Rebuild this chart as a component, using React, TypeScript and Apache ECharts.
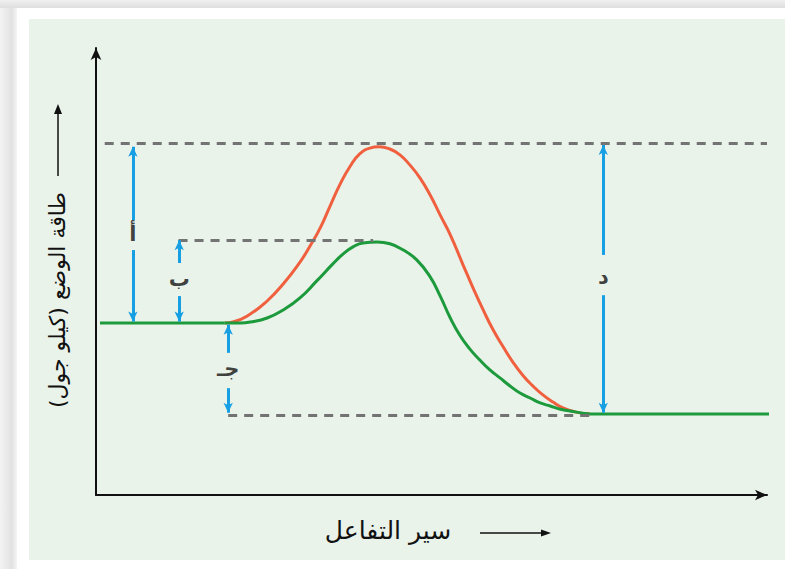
import { useEffect, useRef } from "react";
import * as echarts from "echarts";

// Reaction progress (x, 0-100) vs potential energy (y, 0-100)
const reactantLine: number[][] = [
  [0.6, 38.5], [19.2, 38.5],
];
const uncatalyzedCurve: number[][] = [
  [19.2, 38.5], [20.4, 38.7], [23.0, 40.5], [25.5, 43.4], [27.9, 47.2], [30.4, 52.1],
  [31.9, 55.7], [33.4, 59.7], [34.9, 64.7], [36.4, 69.6], [37.9, 73.6], [39.3, 76.3],
  [40.8, 77.6], [42.2, 77.9], [43.8, 77.4], [45.3, 76.1], [46.8, 73.8], [48.3, 70.9],
  [49.8, 67.1], [51.3, 62.6], [52.8, 58.2], [54.7, 51.5], [56.2, 46.3], [57.7, 41.4],
  [59.2, 36.9], [60.7, 33.1], [62.1, 29.8], [63.6, 26.8], [65.1, 24.4], [66.6, 22.4],
  [68.1, 20.8], [69.6, 19.5], [71.4, 18.6], [73.6, 18.1],
];
const catalyzedCurve: number[][] = [
  [19.2, 38.5], [21.5, 38.5], [23.0, 38.7], [25.5, 39.6], [27.9, 41.4], [30.4, 44.1],
  [32.9, 47.9], [35.3, 51.7], [36.8, 53.9], [38.3, 55.5], [39.8, 56.4], [41.9, 56.6],
  [43.8, 56.2], [45.8, 54.8], [47.8, 52.6], [49.8, 48.8], [51.3, 44.5], [52.8, 39.6],
  [54.2, 35.8], [55.7, 32.7], [57.2, 30.2], [58.7, 28.0], [60.2, 26.2], [61.7, 24.4],
  [63.2, 22.8], [64.7, 21.7], [66.2, 20.6], [67.7, 19.9], [69.2, 19.2], [71.4, 18.6],
  [73.6, 18.1],
];
const productLine: number[][] = [
  [73.6, 18.1], [100.9, 18.1],
];

// dashed guide lines: [xStart, xEnd, level]
const guideLines: number[][] = [
  [1.3, 100, 78.6],
  [12.3, 41.3, 57.0],
  [19.7, 73.6, 17.8],
];

// blue double arrows split around their labels: [x, from, to(arrow tip)]
const arrowSegments: number[][] = [
  [5.5, 61.5, 77.9], [5.5, 54.8, 38.8],
  [12.4, 51.9, 57.0], [12.4, 44.5, 38.8],
  [19.7, 31.8, 38.1], [19.7, 23.9, 18.4],
  [75.6, 53.7, 78.3], [75.6, 44.7, 18.4],
];
const gapLabels = ["أ", "ب", "جـ", "د"];
const gapLabelPos: number[][] = [
  [5.5, 58.3], [12.4, 48.4], [19.7, 28.2], [75.6, 48.8],
];

const yAxisTitle = "طاقة الوضع (كيلو جول)";
const xAxisTitle = "سير التفاعل";

const RED = "#f0603f";
const GREEN = "#1c9a3c";
const BLUE = "#179fe3";
const GREY = "#737373";
const AXIS = "#111111";
const ARABIC_FONT = "'DejaVu Sans', 'Noto Sans', sans-serif";

export default function App() {
  const ref = useRef<HTMLDivElement>(null);

  useEffect(() => {
    if (!ref.current) return;
    const chart = echarts.init(ref.current, undefined, { renderer: "svg" });

    const axisCommon = {
      type: "value" as const,
      min: 0,
      max: 100,
      axisLine: {
        show: true,
        onZero: false,
        symbol: ["none", "arrow"],
        symbolSize: [8, 12],
        lineStyle: { color: AXIS, width: 2 },
      },
      axisTick: { show: false },
      axisLabel: { show: false },
      splitLine: { show: false },
    };

    const curveStyle = (color: string) => ({
      type: "line" as const,
      showSymbol: false,
      symbol: "none",
      clip: false,
      silent: true,
      lineStyle: { color, width: 3 },
    });

    chart.setOption({
      animation: false,
      backgroundColor: "transparent",
      grid: { left: 96, right: 18, top: 48, bottom: 74, containLabel: false },
      xAxis: axisCommon,
      yAxis: axisCommon,
      tooltip: { show: false },
      series: [
        {
          ...curveStyle(RED),
          name: "uncatalyzed",
          smooth: 0.5,
          data: uncatalyzedCurve,
          z: 3,
        },
        {
          ...curveStyle(GREEN),
          name: "reactants",
          data: reactantLine,
          z: 4,
        },
        {
          ...curveStyle(GREEN),
          name: "catalyzed",
          smooth: 0.5,
          data: catalyzedCurve,
          z: 4,
        },
        {
          ...curveStyle(GREEN),
          name: "products",
          data: productLine,
          z: 4,
        },
        {
          type: "line",
          name: "guides",
          data: [],
          silent: true,
          z: 2,
          markLine: {
            silent: true,
            symbol: ["none", "none"],
            label: { show: false },
            emphasis: { disabled: true },
            lineStyle: { color: GREY, width: 3, type: [9, 7] },
            data: guideLines.map(([x0, x1, y]) => [
              { coord: [x0, y] },
              { coord: [x1, y] },
            ]),
          },
        },
        {
          type: "scatter",
          name: "labels",
          symbolSize: 0,
          silent: true,
          z: 5,
          data: gapLabelPos.map((p, i) => ({ value: p, name: gapLabels[i] })),
          label: {
            show: true,
            position: "inside",
            formatter: (p: any) => p.name,
            color: "#111",
            fontSize: 21,
            fontWeight: "bold",
            fontFamily: ARABIC_FONT,
          },
          markLine: {
            silent: true,
            symbol: ["none", "arrow"],
            symbolSize: [7, 10],
            label: { show: false },
            emphasis: { disabled: true },
            lineStyle: { color: BLUE, width: 3, type: "solid" },
            data: arrowSegments.map(([x, y0, y1]) => [
              { coord: [x, y0] },
              { coord: [x, y1] },
            ]),
          },
        },
      ],
      graphic: [
        {
          type: "text",
          x: 57,
          y: 300,
          rotation: Math.PI / 2,
          style: {
            text: "\u200F" + yAxisTitle + "\u200F",
            fill: "#111",
            fontSize: 22,
            fontFamily: ARABIC_FONT,
            align: "center",
            verticalAlign: "middle",
          },
        },
        {
          type: "line",
          shape: { x1: 58, y1: 176, x2: 58, y2: 112 },
          style: { stroke: "#111", lineWidth: 1.5 },
        },
        {
          type: "polygon",
          shape: { points: [[58, 104], [54, 114], [62, 114]] },
          style: { fill: "#111" },
        },
        {
          type: "text",
          x: 388,
          y: 530,
          style: {
            text: xAxisTitle,
            fill: "#111",
            fontSize: 25,
            fontFamily: ARABIC_FONT,
            align: "center",
            verticalAlign: "middle",
          },
        },
        {
          type: "line",
          shape: { x1: 480, y1: 533, x2: 542, y2: 533 },
          style: { stroke: "#111", lineWidth: 1.5 },
        },
        {
          type: "polygon",
          shape: { points: [[551, 533], [541, 529.5], [541, 536.5]] },
          style: { fill: "#111" },
        },
      ],
    });

    return () => chart.dispose();
  }, []);

  return (
    <div
      style={{
        position: "fixed",
        left: 0,
        top: 0,
        width: 785,
        height: 569,
        background: "#ffffff",
        overflow: "hidden",
      }}
    >
      <div
        style={{
          position: "absolute",
          left: 0,
          top: 0,
          width: 785,
          height: 8,
          background: "linear-gradient(#f0f0f0, #dedede)",
        }}
      />
      <div
        style={{
          position: "absolute",
          left: 0,
          top: 8,
          width: 17,
          height: 561,
          background: "linear-gradient(to right, #f3f3f3, #e2e2e2 70%, #f5f5f5)",
        }}
      />
      <div
        style={{
          position: "absolute",
          left: 29,
          top: 19,
          width: 756,
          height: 541,
          background: "#e9f3ea",
        }}
      />
      <div
        ref={ref}
        style={{ position: "absolute", left: 0, top: 0, width: 785, height: 569 }}
      />
    </div>
  );
}
